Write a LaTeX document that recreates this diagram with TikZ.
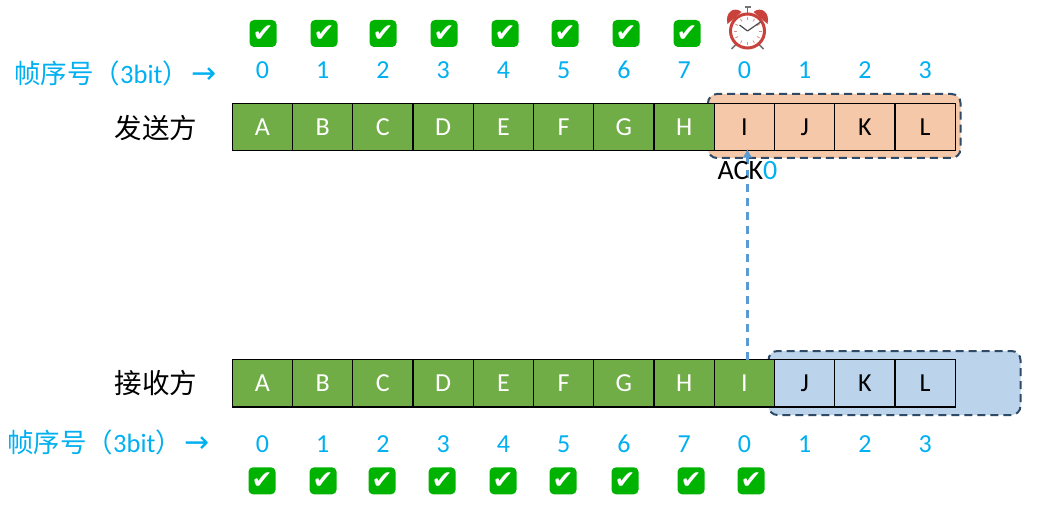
\documentclass[tikz,border=0pt]{standalone}
\usepackage{fontspec}
\setmainfont{Carlito}
\newfontfamily\cjk{Noto Sans CJK SC}
\newfontfamily\symb{DejaVu Sans}
\usetikzlibrary{arrows.meta,positioning,calc}
\definecolor{SeqBlue}{HTML}{00B0F0}
\definecolor{DoneGreen}{HTML}{70AD47}
\definecolor{SendSoft}{HTML}{F5C8AA}
\definecolor{RecvSoft}{HTML}{BBD4EB}
\definecolor{WinLine}{HTML}{2F4A66}
\definecolor{AckLine}{HTML}{5B9BD5}
\definecolor{TickGreen}{HTML}{00B300}
\definecolor{BellRed}{HTML}{C9413B}
\tikzset{
  cell/.style={draw=black,line width=1.2pt,minimum width=60.25pt,minimum height=47.5pt,inner sep=0pt,outer sep=0pt,font=\fontsize{26}{26}\selectfont},
  done/.style={cell,fill=DoneGreen,text=white},
  sendcell/.style={cell,fill=SendSoft},
  recvcell/.style={cell,fill=RecvSoft},
  seqnum/.style={text=SeqBlue,inner sep=0pt,font=\fontsize{26}{26}\selectfont},
  seqlabel/.style={text=SeqBlue,inner sep=0pt,anchor=west,font=\fontsize{26.5}{26.5}\selectfont},
  side/.style={inner sep=0pt,font=\cjk\fontsize{27.5}{27.5}\selectfont},
  tick/.style={fill=TickGreen,rounded corners=4.5pt,minimum size=27pt,inner sep=0pt,text=white,font=\symb\fontsize{25}{25}\selectfont},
  window/.style={draw=WinLine,line width=2pt,dash pattern=on 8pt off 5pt,rounded corners=9pt},
  ackflow/.style={-{Latex[length=9pt,width=10pt]},draw=AckLine,line width=2.6pt,dash pattern=on 8pt off 6pt},
  alarm/.pic={
    \draw[line width=1.6pt,draw=black!55] (-10,12) -- (-16,18);
    \draw[line width=1.6pt,draw=black!55] (10,12) -- (16,18);
    \draw[line width=1.4pt,draw=black!55] (-3,-24) -- (3,-24) (0,-24) -- (0,-18);
    \fill[BellRed] (-20,-7) .. controls (-23,-19) and (-13,-25) .. (-6,-19) -- cycle;
    \fill[BellRed] (20,-7) .. controls (23,-19) and (13,-25) .. (6,-19) -- cycle;
    \draw[fill=white,draw=BellRed,line width=3pt] (0,0) circle[radius=17];
    \foreach \a in {0,30,...,330} \draw[line width=.8pt,draw=BellRed!60] (\a:11) -- (\a:14);
    \draw[line width=1.2pt,draw=black!70] (0,0) -- (-8,-6);
    \draw[line width=1.2pt,draw=black!70] (0,0) -- (13,-9);
  }
}
\begin{document}
\begin{tikzpicture}[x=1pt,y=-1pt]
    \useasboundingbox (0,0) rectangle (1042,513);
    \fill[white] (0,0) rectangle (1042,513);
    \draw[window,fill=SendSoft] (708,94) rectangle (960.5,158);
    \draw[window,fill=RecvSoft] (768.5,351) rectangle (1020.5,415);
    \node[done] (s0) at (262.4,127) {A};
    \foreach \name [count=\i from 1,count=\j from 0] in {B,C,D,E,F,G,H}
      \node[done,right=0pt of s\j] (s\i) {\name};
    \foreach \name [count=\i from 8,count=\j from 7] in {I,J,K,L}
      \node[sendcell,right=0pt of s\j] (s\i) {\name};
    \node[done] (r0) at (262.4,383.3) {A};
    \foreach \name [count=\i from 1,count=\j from 0] in {B,C,D,E,F,G,H,I}
      \node[done,right=0pt of r\j] (r\i) {\name};
    \foreach \name [count=\i from 9,count=\j from 8] in {J,K,L}
      \node[recvcell,right=0pt of r\j] (r\i) {\name};
    \foreach \n [count=\i from 0] in {0,1,2,3,4,5,6,7,0,1,2,3} {
      \node[seqnum] (sn\i) at ($(s\i)+(0,-57)$) {\n};
      \node[seqnum] (rn\i) at ($(r\i)+(0,60.5)$) {\n};
    }
    \foreach \dx [count=\i from 0] in {.6,1.4,.1,.9,1.6,1.4,2.1,2.9}
      \node[tick] (st\i) at ($(s\i)+(\dx,-93.5)$) {✔};
    \foreach \dx [count=\i from 0] in {-.4,.4,-.9,-1.1,-.4,-.6,1.1,6.9,6.6}
      \node[tick] (rt\i) at ($(r\i)+(\dx,97.5)$) {✔};
    \pic (clock) at (747.5,31) {alarm};
    \node[side] (sender) at (156,128) {发送方};
    \node[side] (receiver) at (156,383) {接收方};
    \node[seqlabel] (slabel) at (14,73) {{\cjk 帧序号（}3bit{\cjk ）}\hspace{2pt}{\symb\fontsize{30}{26}\selectfont →}};
    \node[seqlabel] (rlabel) at (7,442) {{\cjk 帧序号（}3bit{\cjk ）}\hspace{2pt}{\symb\fontsize{30}{26}\selectfont →}};
    \draw[ackflow] ($(r8.north)+(3,0)$) -- ($(s8.south)+(3,-2)$);
    \node[inner sep=0pt,font=\fontsize{28}{28}\selectfont] (ack) at (747.5,171) {ACK\textcolor{SeqBlue}{0}};
  \end{tikzpicture}
\end{document}
